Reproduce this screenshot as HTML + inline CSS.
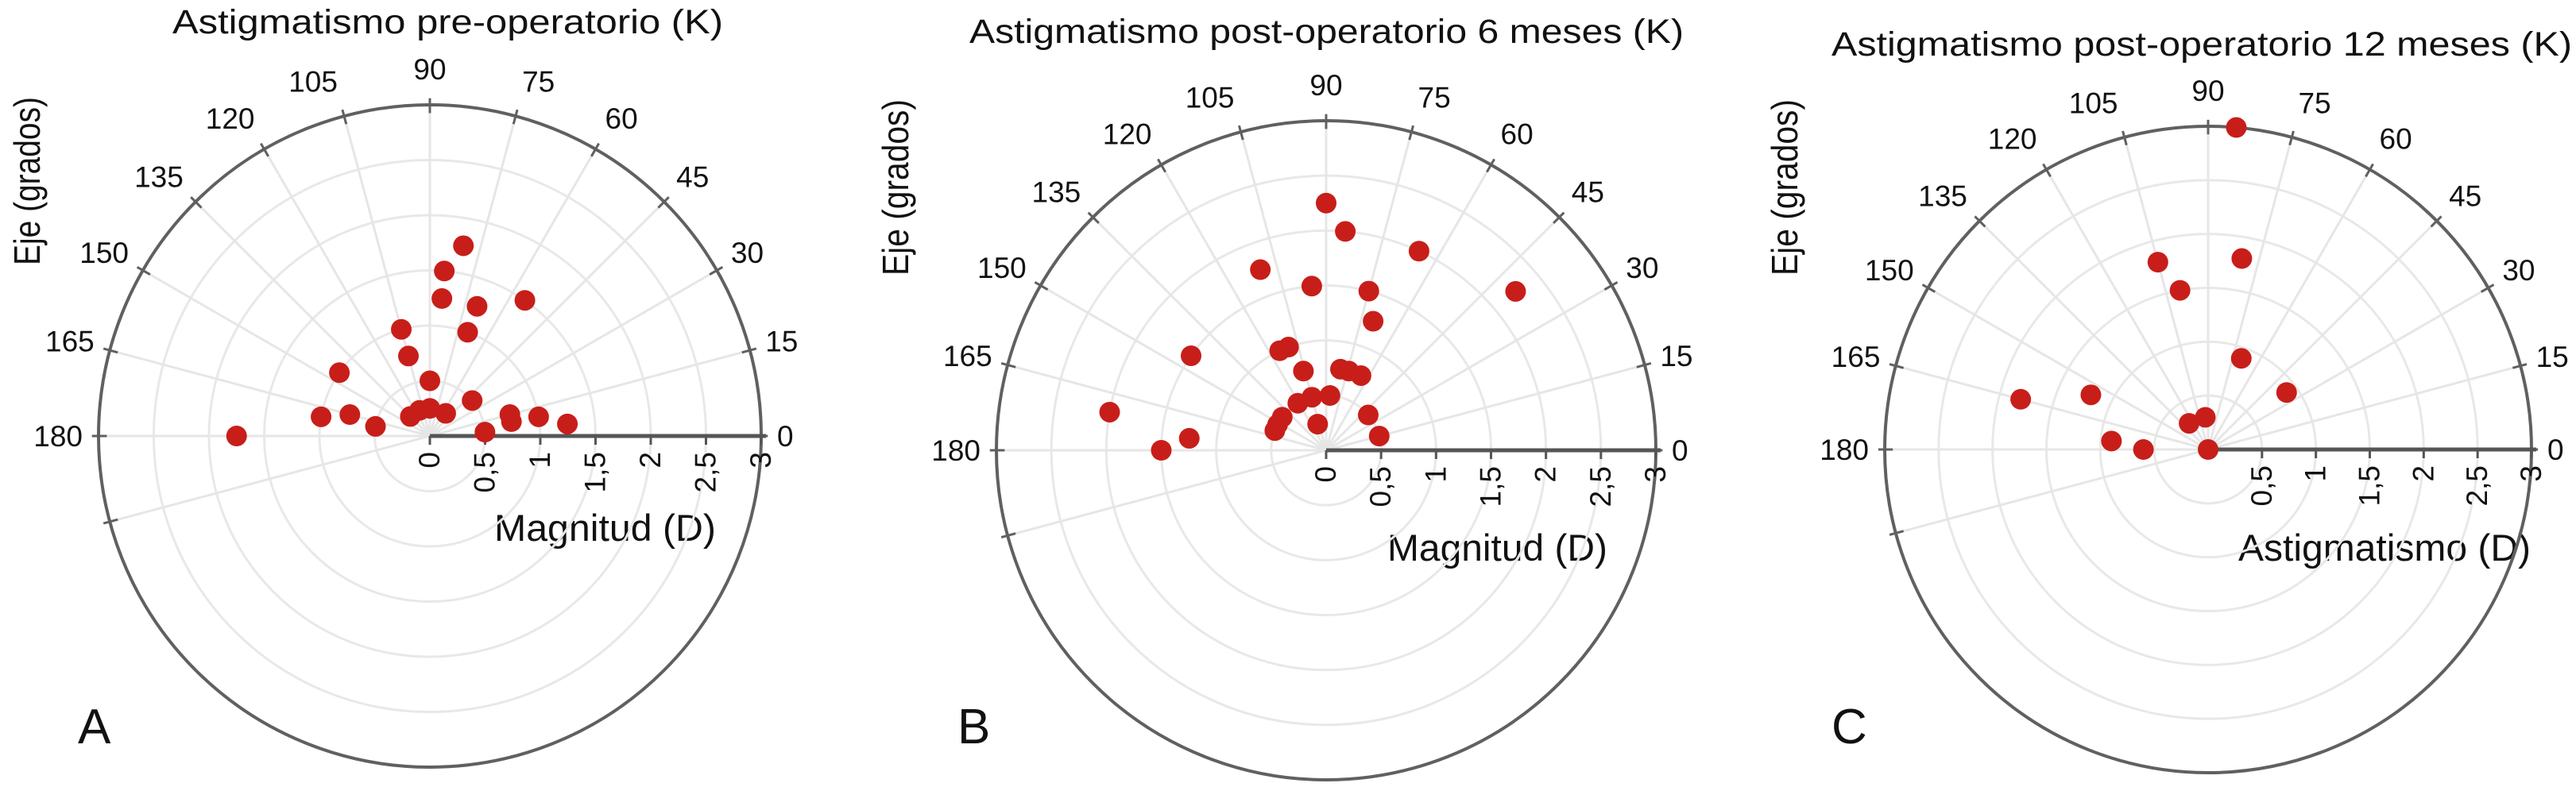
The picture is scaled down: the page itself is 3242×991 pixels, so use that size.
<!DOCTYPE html>
<html><head><meta charset="utf-8"><style>
html,body{margin:0;padding:0;background:#fff;}
svg{display:block;}
text{font-family:"Liberation Sans",Arial,sans-serif;fill:#111;}
</style></head><body>
<svg id="chart" width="3242" height="991" viewBox="0 0 3242 991" xmlns="http://www.w3.org/2000/svg">
<rect width="3242" height="991" fill="#fff"/>
<text x="217" y="42" font-size="43" textLength="693" lengthAdjust="spacingAndGlyphs">Astigmatismo pre-operatorio (K)</text>
<text x="1220" y="54" font-size="43" textLength="899" lengthAdjust="spacingAndGlyphs">Astigmatismo post-operatorio 6 meses (K)</text>
<text x="2305" y="70" font-size="43" textLength="932" lengthAdjust="spacingAndGlyphs">Astigmatismo post-operatorio 12 meses (K)</text>
<text transform="translate(50,228) rotate(-90)" text-anchor="middle" font-size="46" textLength="212" lengthAdjust="spacingAndGlyphs">Eje (grados)</text>
<text transform="translate(1143,236) rotate(-90)" text-anchor="middle" font-size="46" textLength="222" lengthAdjust="spacingAndGlyphs">Eje (grados)</text>
<text transform="translate(2262,236) rotate(-90)" text-anchor="middle" font-size="46" textLength="222" lengthAdjust="spacingAndGlyphs">Eje (grados)</text>
<text x="622" y="681" font-size="47" textLength="279" lengthAdjust="spacingAndGlyphs">Magnitud (D)</text>
<text x="1746" y="706" font-size="47" textLength="277" lengthAdjust="spacingAndGlyphs">Magnitud (D)</text>
<text x="2817" y="706" font-size="47" textLength="368" lengthAdjust="spacingAndGlyphs">Astigmatismo (D)</text>
<text x="98" y="936" font-size="62">A</text>
<text x="1205" y="936" font-size="62">B</text>
<text x="2305" y="936" font-size="62">C</text>
</svg>
<script>
const magA = [1.75,1.5,1.25,1.25,1.5,1.0,1.0,0.75,1.0,0.5,0.5,1.0,0.75,0.5,0.25,0.25,0.25,0.25,0.75,0.75,1.0,1.25,0.5,1.75];
const angA = [80,85,85,70,55,105,70,105,145,90,40,170,165,170,135,112,90,55,15,10,10,5,4,180];
const magB = [2.25,2.0,2.0,2.25,1.75,1.5,1.5,1.25,1.5,1.0,1.0,0.75,0.75,0.75,0.75,0.5,0.5,0.5,0.5,0.5,0.25,0.5,0.5,2.0,1.5,1.25,0.5];
const angB = [90,85,65,40,110,95,75,70,145,115,110,106,80,74,65,86,105,121,143,159,108,40,15,170,180,175,152];
const magC = [3.0,1.8,1.8,1.5,0.9,0.9,1.8,1.2,0.9,0.6,0.3,0.3,0.0];
const angC = [85,80,105,100,70,36,165,155,175,180,95,126,0];
const radialTicks = ["0","0,5","1","1,5","2","2,5","3"];
const angleTicks = [0,15,30,45,60,75,90,105,120,135,150,165,180];
const NS = "http://www.w3.org/2000/svg";
const svg = document.getElementById("chart");
function mk(tag, attrs, parent){
  const e = document.createElementNS(NS, tag);
  for (const k in attrs) e.setAttribute(k, attrs[k]);
  (parent||svg).appendChild(e);
  return e;
}
function panel(id, cx, cy, R, mags, angs, skipZeroLabel){
  const g = mk("g", {});
  
  
  const maxV = 3;
  const rs = v => v / maxV * R;
  const px = (m, a) => cx + rs(m) * Math.cos(a * Math.PI / 180);
  const py = (m, a) => cy - rs(m) * Math.sin(a * Math.PI / 180);
  for (let i = 1; i < 6; i++) {
    const c = mk("circle", {cx: cx, cy: cy, r: rs(i * 0.5), fill: "none", stroke: "#e8e8e8", "stroke-width": 3}, g);
    
    
  }
  const spokes = angleTicks.slice(1).concat([195]);
  spokes.forEach(a => {
    const l = mk("line", {x1: cx, y1: cy, x2: px(maxV, a), y2: py(maxV, a), stroke: "#e6e6e6", "stroke-width": 3}, g);
    
    
  });
  const oc = mk("circle", {cx: cx, cy: cy, r: R, fill: "none", stroke: "#606060", "stroke-width": 4}, g);
  
  
  angleTicks.concat([195]).forEach(a => {
    const t = mk("line", {x1: px(maxV * 0.975, a), y1: py(maxV * 0.975, a), x2: px(maxV * 1.02, a), y2: py(maxV * 1.02, a), stroke: "#606060", "stroke-width": 3}, g);
    
    
  });
  angleTicks.forEach(a => {
    const rr = R + 16;
    const x = cx + rr * Math.cos(a * Math.PI / 180);
    const y = cy - rr * Math.sin(a * Math.PI / 180);
    const anchor = a < 90 ? "start" : (a > 90 ? "end" : "middle");
    const by = y + 13 - Math.sin(a * Math.PI / 180) * 29;
    const t = mk("text", {x: x + (a === 90 ? 0 : (a < 90 ? 4 : -4)), y: by, "text-anchor": anchor, "font-size": 37}, g);
    t.textContent = String(a);
    
    
  });
  const ax = mk("line", {x1: cx, y1: cy, x2: cx + R + 6, y2: cy, stroke: "#555", "stroke-width": 5}, g);
  
  
  radialTicks.forEach((lab, i) => {
    const x = cx + rs(i * 0.5);
    const tk = mk("line", {x1: x, y1: cy, x2: x, y2: cy + 11, stroke: "#555", "stroke-width": 3}, g);
    
    
    if (skipZeroLabel && i === 0) return;
    const t = mk("text", {transform: "translate(" + (x + 12) + "," + (cy + 20) + ") rotate(-90)", "text-anchor": "end", "font-size": 37}, g);
    t.textContent = lab;
    
    
  });
  mags.forEach((m, i) => {
    const d = mk("circle", {cx: px(m, angs[i]), cy: py(m, angs[i]), r: 13, fill: "#c81e1a"}, g);
    
    
  });
}
panel("a", 541, 549, 417, magA, angA, false);
panel("b", 1669, 567, 415, magB, angB, false);
panel("c", 2779, 566, 407, magC, angC, true);
</script>
</body></html>
